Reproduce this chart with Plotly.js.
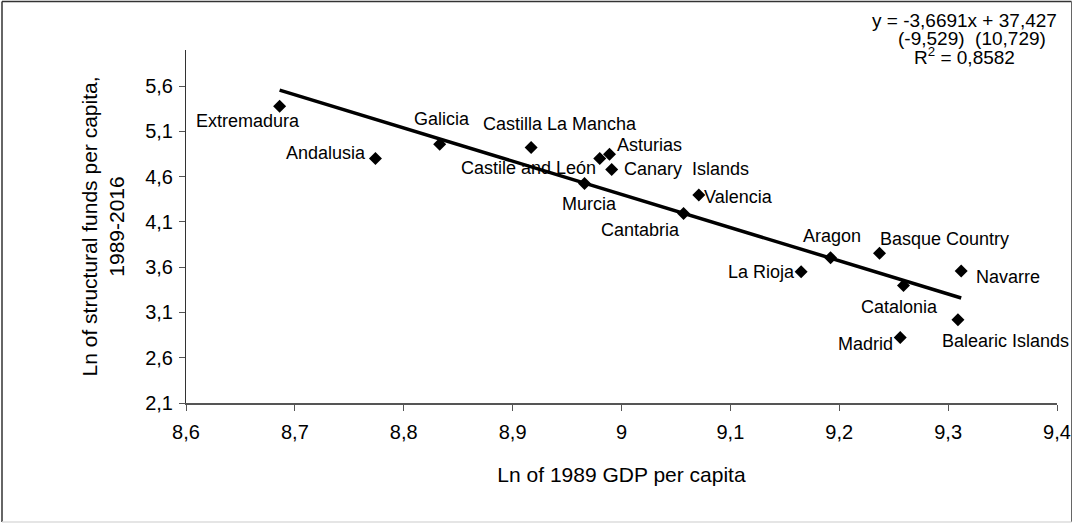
<!DOCTYPE html>
<html>
<head>
<meta charset="utf-8">
<script src="https://cdn.plot.ly/plotly-3.0.1.min.js"></script>
<style>
  html, body { margin: 0; padding: 0; background: #fff; }
  #chart { width: 1074px; height: 524px; }
</style>
</head>
<body>
<div id="chart"></div>
<script>
// Spanish regions: log of 1989 GDP per capita vs log of structural funds per capita (1989-2016)
const regions = [
  'Extremadura', 'Andalusia', 'Galicia', 'Castilla La Mancha', 'Castile and León',
  'Asturias', 'Canary\u00a0 Islands', 'Murcia', 'Valencia', 'Cantabria',
  'Aragon', 'La Rioja', 'Basque Country', 'Navarre', 'Catalonia',
  'Balearic Islands', 'Madrid'
];
const lnGdp1989 = [
  8.686, 8.774, 8.833, 8.917, 8.980,
  8.989, 8.991, 8.966, 9.071, 9.057,
  9.192, 9.165, 9.237, 9.312, 9.259,
  9.309, 9.256
];
const lnFunds = [
  5.378, 4.801, 4.959, 4.922, 4.801,
  4.849, 4.680, 4.526, 4.397, 4.195,
  3.706, 3.551, 3.754, 3.559, 3.397,
  3.019, 2.824
];

// OLS fit reported on the chart (t-statistics in brackets)
const slope = -3.6691;
const intercept = 37.427;
const equationLines = [
  'y = -3,6691x + 37,427',
  '(-9,529)\u00a0 (10,729)',
  'R<sup>2</sup> = 0,8582'
];

// Axis ticks (comma decimal separator)
const xTickVals = [8.6, 8.7, 8.8, 8.9, 9.0, 9.1, 9.2, 9.3, 9.4];
const xTickText = ['8,6', '8,7', '8,8', '8,9', '9', '9,1', '9,2', '9,3', '9,4'];
const yTickVals = [2.1, 2.6, 3.1, 3.6, 4.1, 4.6, 5.1, 5.6];
const yTickText = ['2,1', '2,6', '3,1', '3,6', '4,1', '4,6', '5,1', '5,6'];

// Label placement around each marker, in pixels (dx right, dy down)
const labelOffsets = {
  'Extremadura': [-32, 15],
  'Andalusia': [-49, -6],
  'Galicia': [2, -25],
  'Castilla La Mancha': [29, -24],
  'Castile and León': [-71, 9],
  'Asturias': [40, -9],
  'Canary\u00a0 Islands': [75, 0],
  'Murcia': [5, 21],
  'Valencia': [40, 2],
  'Cantabria': [-43, 17],
  'Aragon': [1, -22],
  'La Rioja': [-40, 0],
  'Basque Country': [65, -14],
  'Navarre': [47, 6],
  'Catalonia': [-4, 21],
  'Balearic Islands': [48, 21],
  'Madrid': [-35, 7]
};

const FONT = 'Liberation Sans, Arial, sans-serif';

const xMin = Math.min(...lnGdp1989);
const xMax = Math.max(...lnGdp1989);
const fitX = [xMin, xMax];
const fitY = fitX.map(v => slope * v + intercept);

const traces = [
  {
    type: 'scatter', mode: 'lines', x: fitX, y: fitY,
    line: { color: '#000', width: 3.5 }, hoverinfo: 'skip', showlegend: false
  },
  {
    type: 'scatter', mode: 'markers', x: lnGdp1989, y: lnFunds, text: regions,
    marker: { symbol: 'diamond', size: 10, color: '#000' }, showlegend: false
  }
];

const annotations = regions.map((name, i) => ({
  x: lnGdp1989[i], y: lnFunds[i], xref: 'x', yref: 'y',
  text: name, showarrow: false,
  xanchor: 'center', yanchor: 'middle',
  xshift: labelOffsets[name][0], yshift: -labelOffsets[name][1],
  font: { family: FONT, size: 18, color: '#000' }
}));

// Regression equation block, top right
const eqPos = [[964, 20], [972, 38], [964, 56]];
const plotL = 186, plotW = 871, plotB = 403, plotH = 353;
equationLines.forEach((t, i) => {
  annotations.push({
    xref: 'paper', yref: 'paper',
    x: (eqPos[i][0] - plotL) / plotW, y: (plotB - eqPos[i][1]) / plotH,
    xanchor: 'center', yanchor: 'middle', showarrow: false, text: t,
    font: { family: FONT, size: 19, color: '#000' }
  });
});

const px = v => (v - plotL) / plotW;
const py = v => (plotB - v) / plotH;

const layout = {
  width: 1074, height: 524,
  margin: { l: 186, r: 17, t: 50, b: 121 },
  paper_bgcolor: '#fff', plot_bgcolor: '#fff',
  font: { family: FONT, size: 19, color: '#000' },
  showlegend: false,
  xaxis: {
    range: [8.6, 9.4], tickmode: 'array', tickvals: xTickVals, ticktext: xTickText,
    showgrid: false, zeroline: false, showline: true, linecolor: '#555', linewidth: 1.5,
    ticks: 'outside', ticklen: 6, tickcolor: '#555', tickwidth: 1,
    ticklabelstandoff: 4,
    tickfont: { family: FONT, size: 20, color: '#000' },
    title: { text: 'Ln of 1989 GDP per capita', font: { family: FONT, size: 21, color: '#000' }, standoff: 26 }
  },
  yaxis: {
    range: [2.1, 6.0], tickmode: 'array', tickvals: yTickVals, ticktext: yTickText,
    showgrid: false, zeroline: false, showline: true, linecolor: '#333', linewidth: 1,
    ticks: 'outside', ticklen: 6, tickcolor: '#555', tickwidth: 1,
    ticklabelstandoff: 2,
    tickfont: { family: FONT, size: 20, color: '#000' },
    title: { text: 'Ln of structural funds per capita,<br>1989-2016', font: { family: FONT, size: 21, color: '#000' }, standoff: 14 }
  },
  shapes: [
    // outer frame
    { type: 'line', xref: 'paper', yref: 'paper', x0: px(2), x1: px(1071.5), y0: py(1.5), y1: py(1.5), line: { color: '#333', width: 1.5 } },
    { type: 'line', xref: 'paper', yref: 'paper', x0: px(2), x1: px(2), y0: py(1.5), y1: py(522), line: { color: '#333', width: 1.5 } },
    { type: 'line', xref: 'paper', yref: 'paper', x0: px(1071.5), x1: px(1071.5), y0: py(1.5), y1: py(522), line: { color: '#666', width: 1 } },
    { type: 'line', xref: 'paper', yref: 'paper', x0: px(2), x1: px(1071.5), y0: py(522), y1: py(522), line: { color: '#ddd', width: 1.5 } }
  ],
  annotations: annotations
};

Plotly.newPlot('chart', traces, layout, { displayModeBar: false, staticPlot: true });
</script>
</body>
</html>
